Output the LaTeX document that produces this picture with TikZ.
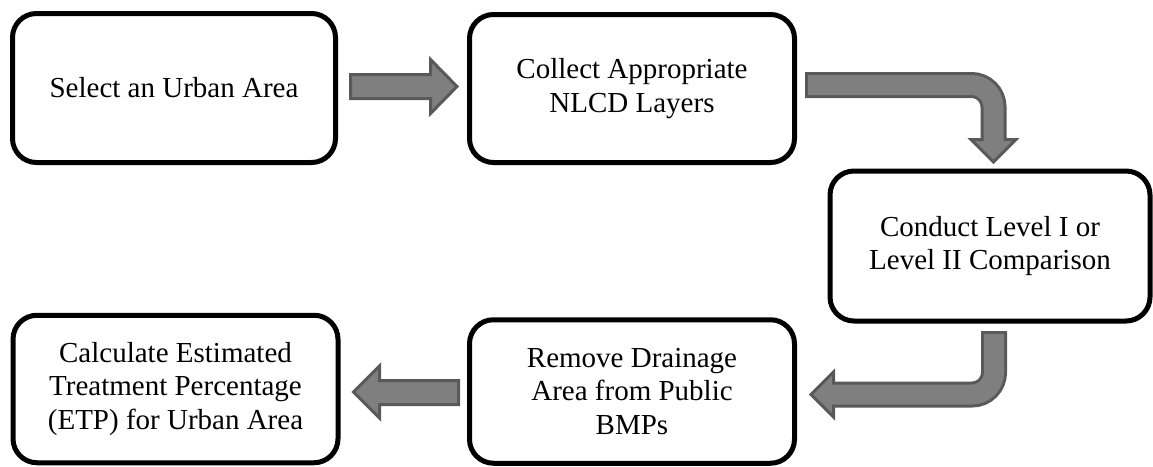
\documentclass[tikz,border=0pt]{standalone}
\usepackage{fontspec}
\setmainfont{Liberation Serif}
\definecolor{arrfill}{HTML}{7F7F7F}
\definecolor{arrline}{HTML}{595959}
\tikzset{
  stepbox/.style={draw=black, line width=5pt, rounded corners=24pt, fill=white,
    align=center, font=\fontsize{29}{33.5}\selectfont, inner sep=0pt},
  blockarrow/.style={fill=arrfill, draw=arrline, line width=3pt},
  shaftout/.style={draw=arrline, line width=26pt, rounded corners=22pt},
  shaftin/.style={draw=arrfill, line width=20pt, rounded corners=22pt}
}
\begin{document}
\begin{tikzpicture}[x=1pt,y=-1pt]
\useasboundingbox (0,0) rectangle (1153,466);
% boxes
\node[stepbox, minimum width=323pt, minimum height=149pt] (select) at (174,88) {Select an Urban Area};
\node[stepbox, minimum width=325pt, minimum height=148pt] (collect) at (632,88.5) {Collect Appropriate\\NLCD Layers};
\node[stepbox, minimum width=320pt, minimum height=150pt] (conduct) at (990,246) {Conduct Level I or\\Level II Comparison};
\node[stepbox, minimum width=325pt, minimum height=143.5pt] (remove) at (632,391.5) {Remove Drainage\\Area from Public\\BMPs};
\node[stepbox, minimum width=325pt, minimum height=147.5pt] (calc) at (175.5,389) {Calculate Estimated\\Treatment Percentage\\(ETP) for Urban Area};
% straight arrow: select -> collect
\draw[blockarrow] (350.5,74.5) -- (430.5,74.5) -- (430.5,59.5) -- (457,86.5)
  -- (430.5,113.5) -- (430.5,98.5) -- (350.5,98.5) -- cycle;
% bent arrow: collect -> conduct
\draw[blockarrow] (971,139.5) -- (1016,139.5) -- (993.5,162) -- cycle;
\draw[shaftout] (805,85) -- (993.5,85) -- (993.5,139.5);
\draw[shaftin] (808,85) -- (993.5,85) -- (993.5,142);
% bent arrow: conduct -> remove
\draw[blockarrow] (833.5,372) -- (833.5,417) -- (811,394.5) -- cycle;
\draw[shaftout] (994,331) -- (994,394.5) -- (833.5,394.5);
\draw[shaftin] (994,334) -- (994,394.5) -- (830,394.5);
% straight arrow: remove -> calc
\draw[blockarrow] (458.5,380.5) -- (379.5,380.5) -- (379.5,366) -- (353.5,392)
  -- (379.5,418) -- (379.5,404.5) -- (458.5,404.5) -- cycle;
\end{tikzpicture}
\end{document}
